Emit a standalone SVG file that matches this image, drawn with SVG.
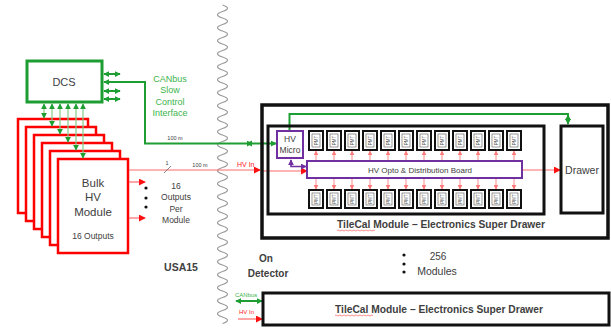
<svg xmlns="http://www.w3.org/2000/svg" width="611" height="329" viewBox="0 0 611 329">
<style>
text{font-family:"Liberation Sans",Arial,sans-serif;fill:#404040}
.mid{text-anchor:middle}
.g{fill:#3cb44b}
.r{fill:#ff2020}
.bold{font-weight:bold}
.hv{fill:#fff;stroke:#ff0000;stroke-width:2.5}
.blk{fill:none;stroke:#111;stroke-width:3}
.pur{fill:#fff;stroke:#7030a0;stroke-width:2}
.pmto{fill:#fff;stroke:#111;stroke-width:2}
.pmti{fill:none;stroke:#555;stroke-width:0.6}
.pmtt{font-size:4.5px;fill:#555;text-anchor:middle}
.gl{fill:none;stroke:#1e9e32;stroke-width:2}
.glt{fill:none;stroke:#7fcf85;stroke-width:1.2}
.rl{fill:none;stroke:#ff6a6a;stroke-width:1.2}
.pk{fill:none;stroke:#ff8a8a;stroke-width:1}
</style>
<defs>
<marker id="ga" viewBox="0 0 8 8" refX="7" refY="4" markerWidth="6" markerHeight="6" markerUnits="userSpaceOnUse" orient="auto-start-reverse"><path d="M0,0 L8,4 L0,8 z" fill="#1e9e32"/></marker>
<marker id="ra" viewBox="0 0 8 8" refX="7" refY="4" markerWidth="7" markerHeight="7" markerUnits="userSpaceOnUse" orient="auto-start-reverse"><path d="M0,0 L8,4 L0,8 z" fill="#ff1010"/></marker>
<marker id="pa" viewBox="0 0 8 8" refX="7" refY="4" markerWidth="5" markerHeight="5" markerUnits="userSpaceOnUse" orient="auto"><path d="M0,0 L8,4 L0,8 z" fill="#ff7a7a"/></marker>
<marker id="va" viewBox="0 0 8 8" refX="7" refY="4" markerWidth="6" markerHeight="6" markerUnits="userSpaceOnUse" orient="auto-start-reverse"><path d="M0,0 L8,4 L0,8 z" fill="#7030a0"/></marker>
</defs>

<!-- separator wave -->
<path d="M222.5,5 q10,3.25 0,6.5 t0,6.5 t0,6.5 t0,6.5 t0,6.5 t0,6.5 t0,6.5 t0,6.5 t0,6.5 t0,6.5 t0,6.5 t0,6.5 t0,6.5 t0,6.5 t0,6.5 t0,6.5 t0,6.5 t0,6.5 t0,6.5 t0,6.5 t0,6.5 t0,6.5 t0,6.5 t0,6.5 t0,6.5 t0,6.5 t0,6.5 t0,6.5 t0,6.5 t0,6.5 t0,6.5 t0,6.5 t0,6.5 t0,6.5 t0,6.5 t0,6.5 t0,6.5 t0,6.5 t0,6.5 t0,6.5 t0,6.5 t0,6.5 t0,6.5 t0,6.5 t0,6.5 t0,6.5 t0,6.5 t0,6.5 t0,6.5" fill="none" stroke="#9a9a9a" stroke-width="1.2"/>

<!-- Bulk HV modules -->
<g id="bulk-hv">
<rect class="hv" x="18" y="119" width="70" height="94"/>
<rect class="hv" x="26" y="127" width="70" height="94"/>
<rect class="hv" x="34" y="135" width="70" height="94"/>
<rect class="hv" x="42" y="143" width="70" height="94"/>
<rect class="hv" x="50" y="151" width="70" height="94"/>
<rect class="hv" x="58" y="159" width="70" height="94"/>
<text class="mid" x="93" y="187" font-size="11.5">Bulk</text>
<text class="mid" x="93" y="201" font-size="11.5">HV</text>
<text class="mid" x="93" y="216" font-size="11.5">Module</text>
<text class="mid" x="93" y="239" font-size="8.5">16 Outputs</text>
</g>

<!-- DCS -->
<g id="dcs">
<rect x="27" y="61" width="75" height="41" fill="#fff" stroke="#1e9e32" stroke-width="3"/>
<text class="mid" x="64" y="86" font-size="11">DCS</text>
</g>

<g id="connectors">
<!-- DCS side arrows -->
<line class="gl" x1="104" y1="74" x2="120" y2="74" stroke-width="1.4" marker-start="url(#ga)" marker-end="url(#ga)"/>
<line class="gl" x1="104" y1="82" x2="120" y2="82" stroke-width="1.4" marker-start="url(#ga)"/>
<line class="gl" x1="104" y1="91" x2="120" y2="91" stroke-width="1.4" marker-start="url(#ga)" marker-end="url(#ga)"/>
<line class="gl" x1="104" y1="99" x2="120" y2="99" stroke-width="1.4" marker-start="url(#ga)" marker-end="url(#ga)"/>
<!-- DCS to HV micro -->
<path class="gl" d="M112,82 H145 V143.5 H252" marker-end="url(#ga)" transform="rotate(0)"/>
<path class="gl" d="M248,143.5 H276" marker-end="url(#ga)"/>
<path d="M252,140.5 L246,143.5 L252,146.5 z" fill="#1e9e32"/>
<!-- DCS to modules -->
<line class="glt" x1="44" y1="104" x2="44" y2="118" marker-start="url(#ga)" marker-end="url(#ga)"/>
<line class="glt" x1="52" y1="104" x2="52" y2="126" marker-start="url(#ga)" marker-end="url(#ga)"/>
<line class="glt" x1="60" y1="104" x2="60" y2="134" marker-start="url(#ga)" marker-end="url(#ga)"/>
<line class="glt" x1="68" y1="104" x2="68" y2="142" marker-start="url(#ga)" marker-end="url(#ga)"/>
<line class="glt" x1="76" y1="104" x2="76" y2="150" marker-start="url(#ga)" marker-end="url(#ga)"/>
<line class="glt" x1="83" y1="104" x2="83" y2="158" marker-start="url(#ga)" marker-end="url(#ga)"/>
<!-- HV outputs -->
<line class="rl" x1="129" y1="182" x2="145" y2="182" marker-end="url(#ra)"/>
<line class="rl" x1="129" y1="218" x2="145" y2="218" marker-end="url(#ra)"/>
<!-- HV in main line -->
<line class="rl" x1="129" y1="170" x2="260" y2="170" marker-end="url(#ra)"/>
<line x1="164" y1="173" x2="171" y2="166" stroke="#666" stroke-width="0.8"/>
<line class="rl" x1="263" y1="171" x2="307" y2="171" marker-end="url(#ra)"/>
<line class="rl" x1="523" y1="170" x2="560" y2="170" marker-end="url(#ra)"/>
<!-- HV micro to drawer -->
<path class="gl" d="M289.5,130 V114 H568 V124" marker-end="url(#ga)"/>
<path d="M565,120 L568,114.5 L571,120 z" fill="#1e9e32"/>
<!-- micro to opto -->
<path fill="none" stroke="#7030a0" stroke-width="1.6" d="M291,160 V166.5 H306" marker-start="url(#va)" marker-end="url(#va)"/>
<!-- opto to PMTs -->
<g class="pk">
<line x1="316" y1="160" x2="316" y2="151" marker-end="url(#pa)"/><line x1="334" y1="160" x2="334" y2="151" marker-end="url(#pa)"/><line x1="352" y1="160" x2="352" y2="151" marker-end="url(#pa)"/><line x1="370" y1="160" x2="370" y2="151" marker-end="url(#pa)"/><line x1="388" y1="160" x2="388" y2="151" marker-end="url(#pa)"/><line x1="406" y1="160" x2="406" y2="151" marker-end="url(#pa)"/><line x1="424" y1="160" x2="424" y2="151" marker-end="url(#pa)"/><line x1="442" y1="160" x2="442" y2="151" marker-end="url(#pa)"/><line x1="460" y1="160" x2="460" y2="151" marker-end="url(#pa)"/><line x1="478" y1="160" x2="478" y2="151" marker-end="url(#pa)"/><line x1="496" y1="160" x2="496" y2="151" marker-end="url(#pa)"/><line x1="514" y1="160" x2="514" y2="151" marker-end="url(#pa)"/>
<line x1="316" y1="179" x2="316" y2="189" marker-end="url(#pa)"/><line x1="334" y1="179" x2="334" y2="189" marker-end="url(#pa)"/><line x1="352" y1="179" x2="352" y2="189" marker-end="url(#pa)"/><line x1="370" y1="179" x2="370" y2="189" marker-end="url(#pa)"/><line x1="388" y1="179" x2="388" y2="189" marker-end="url(#pa)"/><line x1="406" y1="179" x2="406" y2="189" marker-end="url(#pa)"/><line x1="424" y1="179" x2="424" y2="189" marker-end="url(#pa)"/><line x1="442" y1="179" x2="442" y2="189" marker-end="url(#pa)"/><line x1="460" y1="179" x2="460" y2="189" marker-end="url(#pa)"/><line x1="478" y1="179" x2="478" y2="189" marker-end="url(#pa)"/><line x1="496" y1="179" x2="496" y2="189" marker-end="url(#pa)"/><line x1="514" y1="179" x2="514" y2="189" marker-end="url(#pa)"/>
</g>
<!-- bottom module inputs -->
<line class="gl" x1="236" y1="301" x2="262" y2="301" stroke-width="1.4" marker-start="url(#ga)" marker-end="url(#ga)"/>
<line class="rl" x1="238" y1="319" x2="262" y2="319" marker-end="url(#ra)"/>
</g>

<!-- labels -->
<g id="labels">
<text class="mid g" x="170" y="82" font-size="9">CANbus</text>
<text class="mid g" x="170" y="93" font-size="9">Slow</text>
<text class="mid g" x="170" y="105" font-size="9">Control</text>
<text class="mid g" x="170" y="116" font-size="9">Interface</text>
<text class="mid" x="175" y="140" font-size="5.5" fill="#444">100 m</text>
<text class="mid" x="167" y="165" font-size="5.5" fill="#444">1</text>
<text class="mid" x="200" y="167" font-size="5.5" fill="#444">100 m</text>
<text class="r" x="237" y="167" font-size="7">HV In</text>
<circle cx="146" cy="188" r="1.6" fill="#111"/><circle cx="146" cy="198" r="1.6" fill="#111"/><circle cx="146" cy="207" r="1.6" fill="#111"/>
<text class="mid" x="176" y="189" font-size="8.5">16</text>
<text class="mid" x="176" y="200" font-size="8.5">Outputs</text>
<text class="mid" x="176" y="212" font-size="8.5">Per</text>
<text class="mid" x="176" y="223" font-size="8.5">Module</text>
<text class="mid bold" x="181" y="271" font-size="10.5">USA15</text>
<text class="mid bold" x="266" y="262" font-size="10">On</text>
<text class="mid bold" x="268" y="277" font-size="10">Detector</text>
<circle cx="404" cy="255" r="1.6" fill="#111"/><circle cx="404" cy="264" r="1.6" fill="#111"/><circle cx="404" cy="272" r="1.6" fill="#111"/>
<text class="mid" x="438" y="260" font-size="10">256</text>
<text class="mid" x="437" y="275" font-size="10.5">Modules</text>
<text class="g" x="235" y="297" font-size="6">CANbus</text>
<text class="r" x="239" y="314" font-size="6">HV In</text>
</g>

<!-- TileCal module (detailed) -->
<g id="tilecal-module">
<rect x="262" y="105" width="346" height="133" fill="none" stroke="#111" stroke-width="3.5"/>
<rect class="blk" x="268" y="126" width="276" height="88"/>
<text class="mid bold" x="441" y="228" font-size="10" textLength="208" lengthAdjust="spacingAndGlyphs">TileCal Module – Electronics Super Drawer</text>
<path d="M337,230.5 q1,-1 2,0 t2,0 t2,0 t2,0 t2,0 t2,0 t2,0 t2,0 t2,0 t2,0 t2,0 t2,0 t2,0 t2,0 t2,0 t2,0 t2,0 t2,0 t2,0" fill="none" stroke="#ff4040" stroke-width="0.6"/>
</g>

<g id="hv-micro">
<rect class="pur" x="277" y="131" width="26" height="27"/>
<text class="mid" x="290" y="142" font-size="8.5">HV</text>
<text class="mid" x="290" y="153" font-size="8.5">Micro</text>
</g>

<g id="hv-opto">
<rect class="pur" x="307" y="161" width="215" height="17"/>
<text class="mid" x="420" y="173" font-size="8">HV Opto &amp; Distribution Board</text>
</g>

<g id="drawer">
<rect class="blk" x="561" y="126" width="42" height="87" fill="#fff"/>
<text class="mid" x="582" y="174" font-size="10.5">Drawer</text>
</g>

<g id="pmts-top">
<g><rect class="pmto" x="309" y="131" width="14" height="19"/><rect class="pmti" x="312" y="134" width="8" height="13"/><text class="pmtt" transform="translate(317.6,140.5) rotate(-90)">PMT</text></g>
<g><rect class="pmto" x="327" y="131" width="14" height="19"/><rect class="pmti" x="330" y="134" width="8" height="13"/><text class="pmtt" transform="translate(335.6,140.5) rotate(-90)">PMT</text></g>
<g><rect class="pmto" x="345" y="131" width="14" height="19"/><rect class="pmti" x="348" y="134" width="8" height="13"/><text class="pmtt" transform="translate(353.6,140.5) rotate(-90)">PMT</text></g>
<g><rect class="pmto" x="363" y="131" width="14" height="19"/><rect class="pmti" x="366" y="134" width="8" height="13"/><text class="pmtt" transform="translate(371.6,140.5) rotate(-90)">PMT</text></g>
<g><rect class="pmto" x="381" y="131" width="14" height="19"/><rect class="pmti" x="384" y="134" width="8" height="13"/><text class="pmtt" transform="translate(389.6,140.5) rotate(-90)">PMT</text></g>
<g><rect class="pmto" x="399" y="131" width="14" height="19"/><rect class="pmti" x="402" y="134" width="8" height="13"/><text class="pmtt" transform="translate(407.6,140.5) rotate(-90)">PMT</text></g>
<g><rect class="pmto" x="417" y="131" width="14" height="19"/><rect class="pmti" x="420" y="134" width="8" height="13"/><text class="pmtt" transform="translate(425.6,140.5) rotate(-90)">PMT</text></g>
<g><rect class="pmto" x="435" y="131" width="14" height="19"/><rect class="pmti" x="438" y="134" width="8" height="13"/><text class="pmtt" transform="translate(443.6,140.5) rotate(-90)">PMT</text></g>
<g><rect class="pmto" x="453" y="131" width="14" height="19"/><rect class="pmti" x="456" y="134" width="8" height="13"/><text class="pmtt" transform="translate(461.6,140.5) rotate(-90)">PMT</text></g>
<g><rect class="pmto" x="471" y="131" width="14" height="19"/><rect class="pmti" x="474" y="134" width="8" height="13"/><text class="pmtt" transform="translate(479.6,140.5) rotate(-90)">PMT</text></g>
<g><rect class="pmto" x="489" y="131" width="14" height="19"/><rect class="pmti" x="492" y="134" width="8" height="13"/><text class="pmtt" transform="translate(497.6,140.5) rotate(-90)">PMT</text></g>
<g><rect class="pmto" x="507" y="131" width="14" height="19"/><rect class="pmti" x="510" y="134" width="8" height="13"/><text class="pmtt" transform="translate(515.6,140.5) rotate(-90)">PMT</text></g>
</g>

<g id="pmts-bottom">
<g><rect class="pmto" x="309" y="190" width="14" height="18"/><rect class="pmti" x="312" y="193" width="8" height="12"/><text class="pmtt" transform="translate(317.6,199) rotate(-90)">PMT</text></g>
<g><rect class="pmto" x="327" y="190" width="14" height="18"/><rect class="pmti" x="330" y="193" width="8" height="12"/><text class="pmtt" transform="translate(335.6,199) rotate(-90)">PMT</text></g>
<g><rect class="pmto" x="345" y="190" width="14" height="18"/><rect class="pmti" x="348" y="193" width="8" height="12"/><text class="pmtt" transform="translate(353.6,199) rotate(-90)">PMT</text></g>
<g><rect class="pmto" x="363" y="190" width="14" height="18"/><rect class="pmti" x="366" y="193" width="8" height="12"/><text class="pmtt" transform="translate(371.6,199) rotate(-90)">PMT</text></g>
<g><rect class="pmto" x="381" y="190" width="14" height="18"/><rect class="pmti" x="384" y="193" width="8" height="12"/><text class="pmtt" transform="translate(389.6,199) rotate(-90)">PMT</text></g>
<g><rect class="pmto" x="399" y="190" width="14" height="18"/><rect class="pmti" x="402" y="193" width="8" height="12"/><text class="pmtt" transform="translate(407.6,199) rotate(-90)">PMT</text></g>
<g><rect class="pmto" x="417" y="190" width="14" height="18"/><rect class="pmti" x="420" y="193" width="8" height="12"/><text class="pmtt" transform="translate(425.6,199) rotate(-90)">PMT</text></g>
<g><rect class="pmto" x="435" y="190" width="14" height="18"/><rect class="pmti" x="438" y="193" width="8" height="12"/><text class="pmtt" transform="translate(443.6,199) rotate(-90)">PMT</text></g>
<g><rect class="pmto" x="453" y="190" width="14" height="18"/><rect class="pmti" x="456" y="193" width="8" height="12"/><text class="pmtt" transform="translate(461.6,199) rotate(-90)">PMT</text></g>
<g><rect class="pmto" x="471" y="190" width="14" height="18"/><rect class="pmti" x="474" y="193" width="8" height="12"/><text class="pmtt" transform="translate(479.6,199) rotate(-90)">PMT</text></g>
<g><rect class="pmto" x="489" y="190" width="14" height="18"/><rect class="pmti" x="492" y="193" width="8" height="12"/><text class="pmtt" transform="translate(497.6,199) rotate(-90)">PMT</text></g>
<g><rect class="pmto" x="507" y="190" width="14" height="18"/><rect class="pmti" x="510" y="193" width="8" height="12"/><text class="pmtt" transform="translate(515.6,199) rotate(-90)">PMT</text></g>
</g>

<g id="tilecal-module-2">
<rect x="263" y="293" width="346" height="32" fill="#fff" stroke="#111" stroke-width="3"/>
<text class="mid bold" x="439" y="313" font-size="10" textLength="208" lengthAdjust="spacingAndGlyphs">TileCal Module – Electronics Super Drawer</text>
<path d="M335,315.5 q1,-1 2,0 t2,0 t2,0 t2,0 t2,0 t2,0 t2,0 t2,0 t2,0 t2,0 t2,0 t2,0 t2,0 t2,0 t2,0 t2,0 t2,0 t2,0 t2,0" fill="none" stroke="#ff4040" stroke-width="0.6"/>
</g>
</svg>
